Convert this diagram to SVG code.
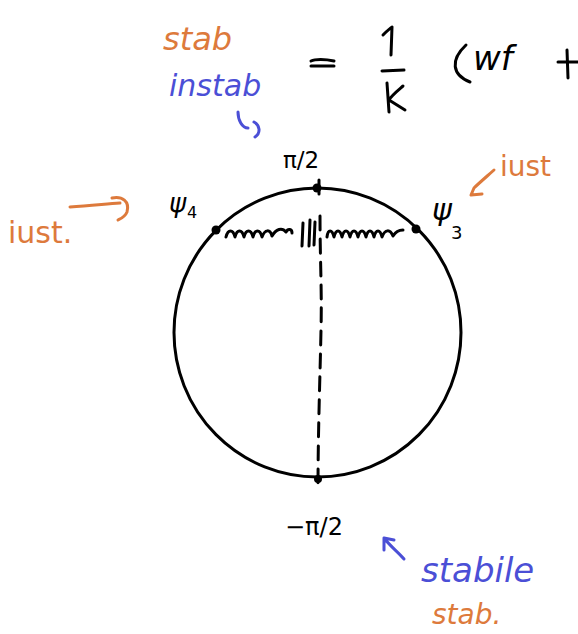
<svg xmlns="http://www.w3.org/2000/svg" width="578" height="634" viewBox="0 0 578 634">
<style>
.k{fill:none;stroke:#000;stroke-width:3;stroke-linecap:round;stroke-linejoin:round}
.o{fill:none;stroke:#DD7A3C;stroke-width:3;stroke-linecap:round;stroke-linejoin:round}
.b{fill:none;stroke:#4B4FD6;stroke-width:3;stroke-linecap:round;stroke-linejoin:round}
text{font-family:"DejaVu Sans","Liberation Sans",sans-serif}
.tk{fill:#000}
.to{fill:#DD7A3C}
.tb{fill:#4B4FD6}
</style>
<rect width="578" height="634" fill="#fff"/>
<g id="circle">
<ellipse cx="317.5" cy="332.5" rx="143.5" ry="144.5" class="k"/>
<circle cx="317" cy="188" r="4.5" fill="#000"/>
<circle cx="216" cy="230" r="4.5" fill="#000"/>
<circle cx="416" cy="229" r="4.5" fill="#000"/>
<circle cx="318" cy="479" r="4" fill="#000"/>
</g>
<g id="connectors">
<path d="M319 180 L319 196 M320 216 C320 260 322 290 321 330 C320 380 318 430 318 490" class="k" stroke-dasharray="14 9"/>
<path d="M226 237 c2 -8 7 -8 9 0 c2 -8 7 -8 9 0 c2 -8 7 -8 9 0 c2 -8 7 -8 9 0 c3 -8 8 -8 10 -1 c4 -7 10 -9 14 -4 c2 -4 6 -3 6 1" class="k" stroke-width="2.5"/>
<path d="M303 223 L302 246 M310 220 L309 246 M315 222 L314 245" class="k" stroke-width="2.5"/>
<path d="M327 237 c1 -8 5 -8 7 0 c2 -8 6 -8 8 0 c2 -8 6 -8 8 0 c2 -8 6 -8 8 0 c2 -8 6 -8 8 0 c2 -8 6 -8 8 0 c2 -8 6 -8 8 0 c3 -8 8 -8 11 -1 c3 -5 7 -6 10 -6" class="k" stroke-width="2.5"/>
<path d="M70 207 C90 206 105 204 120 203 M112 198 C122 196 130 201 127 212 C125 217 120 219 118 220" class="o"/>
<path d="M494 170 C485 178 478 184 474 188 L471 195 L482 194" class="o"/>
<path d="M238 112 C238 120 242 128 248 128 M254 122 C260 125 261 133 255 137" class="b"/>
<path d="M404 559 C398 552 390 546 384 538 M384 538 L384 550 M384 538 L394 540" class="b"/>
</g>
<g id="labels">
<text x="163" y="50" font-size="32" class="to" font-style="italic">stab</text>
<text x="169" y="96" font-size="30" class="tb" font-style="italic">instab</text>
<path d="M311 61 C315 59 325 59 334 61 M311 66 L334 66" class="k" stroke-width="3"/>
<path d="M383 35 C387 31 390 28 392 27 L391 55 M382 71 L404 70" class="k"/>
<path d="M387 83 L389 112 M403 86 C396 92 391 96 389 100 L405 110" class="k"/>
<path d="M466 45 C450 60 452 75 470 82" class="k"/>
<text x="473" y="70" font-size="34" class="tk" font-style="italic">wf</text>
<path d="M558 62 L578 62 M567 50 L568 78" class="k"/>
<text x="283" y="168" font-size="23" class="tk">π/2</text>
<text x="169" y="212" font-size="26" class="tk" font-style="italic">ψ</text>
<text x="187" y="218" font-size="16" class="tk">4</text>
<text x="432" y="220" font-size="30" class="tk" font-style="italic">ψ</text>
<text x="451" y="239" font-size="18" class="tk">3</text>
<text x="500" y="176" font-size="28" class="to">iust</text>
<text x="8" y="243" font-size="30" class="to">iust.</text>
<text x="285" y="535" font-size="24" class="tk">−π/2</text>
<text x="421" y="582" font-size="34" class="tb" font-style="italic">stabile</text>
<text x="432" y="624" font-size="28" class="to" font-style="italic">stab.</text>
</g>
</svg>
